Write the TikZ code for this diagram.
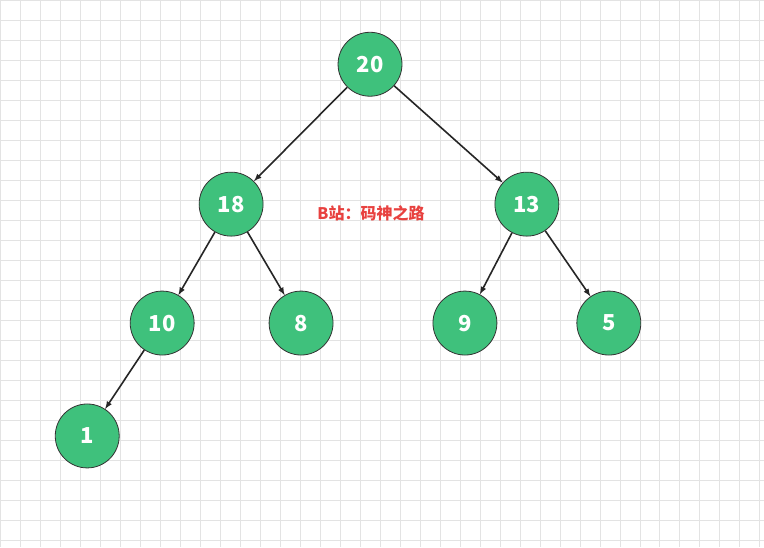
\documentclass[tikz,border=0pt]{standalone}
\usepackage{fontspec}
\usepackage{xcolor}
\newfontfamily\cjk{Noto Sans CJK SC}
\definecolor{customgreen}{HTML}{3fc17c}
\definecolor{customgrid}{HTML}{e3e3e3}
\definecolor{customred}{HTML}{e8413f}

\begin{document}
\begin{tikzpicture}[x = 1pt, y = 1pt]
        % Background
        \fill [white] (0, 0) rectangle (764, -547);
        \draw [customgrid, step = 20pt, line width = 0.6pt] (0, 0) grid (764, -547);
        \useasboundingbox (0, 0) rectangle (764, -547);

        \tikzset{heapnode/.style = {draw = black!80, line width = 0.8pt, fill = customgreen, circle, minimum size = 64pt, inner sep = 0pt, text = white, font = \cjk\bfseries\fontsize{22}{22}\selectfont}}

        % Nodes
        \node [heapnode] (a) at (370, -64) {20};
        \node [heapnode] (b) at (231, -204) {18};
        \node [heapnode] (c) at (527, -204) {13};
        \node [heapnode] (d) at (162, -323) {10};
        \node [heapnode] (e) at (301, -323) {8};
        \node [heapnode] (f) at (465, -323) {9};
        \node [heapnode] (g) at (609, -323) {5};
        \node [heapnode] (h) at (87, -436) {1};

        % Label
        \node [text = customred, font = \cjk\bfseries\fontsize{16}{16}\selectfont] (lbl) at (371, -213) {B站：码神之路};

        % Lines
        \draw [-latex, line width = 1.6pt, black!85] (a) -- (b);
        \draw [-latex, line width = 1.6pt, black!85] (a) -- (c);
        \draw [-latex, line width = 1.6pt, black!85] (b) -- (d);
        \draw [-latex, line width = 1.6pt, black!85] (b) -- (e);
        \draw [-latex, line width = 1.6pt, black!85] (c) -- (f);
        \draw [-latex, line width = 1.6pt, black!85] (c) -- (g);
        \draw [-latex, line width = 1.6pt, black!85] (d) -- (h);

    \end{tikzpicture}
\end{document}
